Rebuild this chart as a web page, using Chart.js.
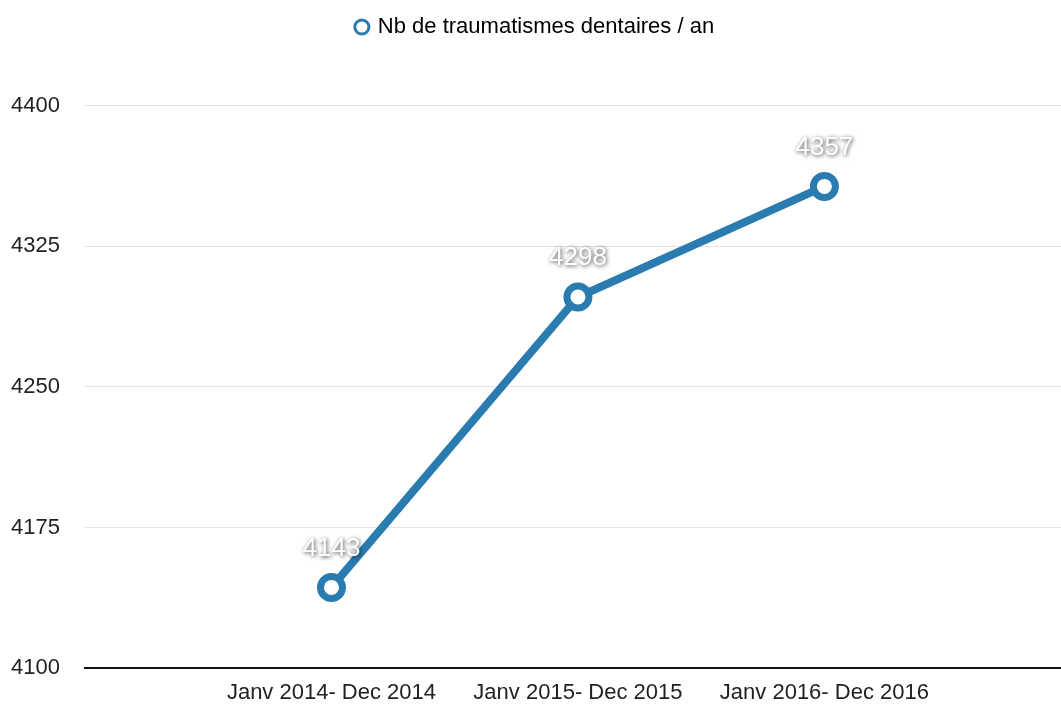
<!DOCTYPE html>
<html>
<head>
<meta charset="utf-8">
<script src="https://cdn.jsdelivr.net/npm/chart.js@4"></script>
<style>
  html, body { margin: 0; padding: 0; background: #fff; overflow: hidden; }
  canvas { display: block; }
</style>
</head>
<body>
<canvas id="grafica" width="1061" height="708"></canvas>
<script>
const periodes = ["Janv 2014- Dec 2014", "Janv 2015- Dec 2015", "Janv 2016- Dec 2016"];
const traumatismes = [4143, 4298, 4357];
const yTicks = [4100, 4175, 4250, 4325, 4400];
const serieNom = "Nb de traumatismes dentaires / an";
const bleu = "#2a7bb0";
const police = "'Liberation Sans', Arial, sans-serif";

// les etiquettes blanches avec ombre au dessus des points
const etiquettes = {
    id: "etiquettes",
    afterDatasetsDraw(chart) {
        const ctx = chart.ctx;
        const meta = chart.getDatasetMeta(0);
        ctx.save();
        ctx.font = "26px " + police;
        ctx.textAlign = "center";
        ctx.textBaseline = "middle";
        ctx.shadowColor = "rgba(0,0,0,0.75)";
        ctx.shadowBlur = 4;
        ctx.shadowOffsetX = 1;
        ctx.shadowOffsetY = 1;
        ctx.fillStyle = "#ffffff";
        meta.data.forEach((pt, i) => {
            ctx.fillText(String(traumatismes[i]), pt.x, pt.y - 39);
        });
        ctx.restore();
    }
};

// la legende prend plus de place en haut
const hauteurLegende = {
    id: "hauteurLegende",
    afterInit(chart) {
        const leg = chart.legend;
        const fit = leg.fit;
        leg.fit = function () { fit.call(this); this.height += 11; };
    }
};

const points = traumatismes.map((v, i) => ({ x: i + 1, y: v }));

const chart = new Chart(document.getElementById("grafica"), {
    type: "line",
    data: {
        datasets: [{
            label: serieNom,
            data: points,
            borderColor: bleu,
            backgroundColor: "#ffffff",
            borderWidth: 8,
            pointRadius: 11,
            pointBorderWidth: 7,
            pointBackgroundColor: "#ffffff",
            pointBorderColor: bleu,
            tension: 0
        }]
    },
    options: {
        responsive: false,
        animation: false,
        layout: { autoPadding: false, padding: { left: 10, right: 0, top: 4, bottom: 0 } },
        plugins: {
            tooltip: { enabled: false },
            legend: {
                position: "top",
                labels: {
                    usePointStyle: true,
                    pointStyle: "circle",
                    boxWidth: 10,
                    boxHeight: 10,
                    padding: 12,
                    color: "#222",
                    font: { family: police, size: 22 },
                    generateLabels: (c) => [{
                        text: serieNom,
                        fillStyle: "#ffffff",
                        strokeStyle: bleu,
                        lineWidth: 3,
                        pointStyle: "circle",
                        datasetIndex: 0
                    }]
                }
            }
        },
        scales: {
            x: {
                type: "linear",
                min: 0,
                max: 3.96,
                grid: { display: false, drawTicks: false },
                border: { display: true, color: "#111", width: 2 },
                afterBuildTicks: (s) => { s.ticks = [1, 2, 3].map(v => ({ value: v })); },
                afterFit: (s) => { s.paddingLeft = 0; s.paddingRight = 0; s.height = 40; },
                ticks: {
                    color: "#222",
                    padding: 12,
                    maxRotation: 0,
                    autoSkip: false,
                    font: { family: police, size: 22 },
                    callback: (v) => periodes[v - 1] || ""
                }
            },
            y: {
                min: 4100,
                max: 4425,
                afterBuildTicks: (s) => { s.ticks = yTicks.map(v => ({ value: v })); },
                afterFit: (s) => { s.width = 75; s.paddingTop = 0; s.paddingBottom = 0; },
                grid: { color: "#e2e2e2", lineWidth: 1, drawTicks: false },
                border: { display: false },
                ticks: {
                    color: "#222",
                    padding: 25,
                    font: { family: police, size: 22 },
                    callback: (v) => String(v)
                }
            }
        }
    },
    plugins: [etiquettes, hauteurLegende]
});
chart.update();
</script>
</body>
</html>
